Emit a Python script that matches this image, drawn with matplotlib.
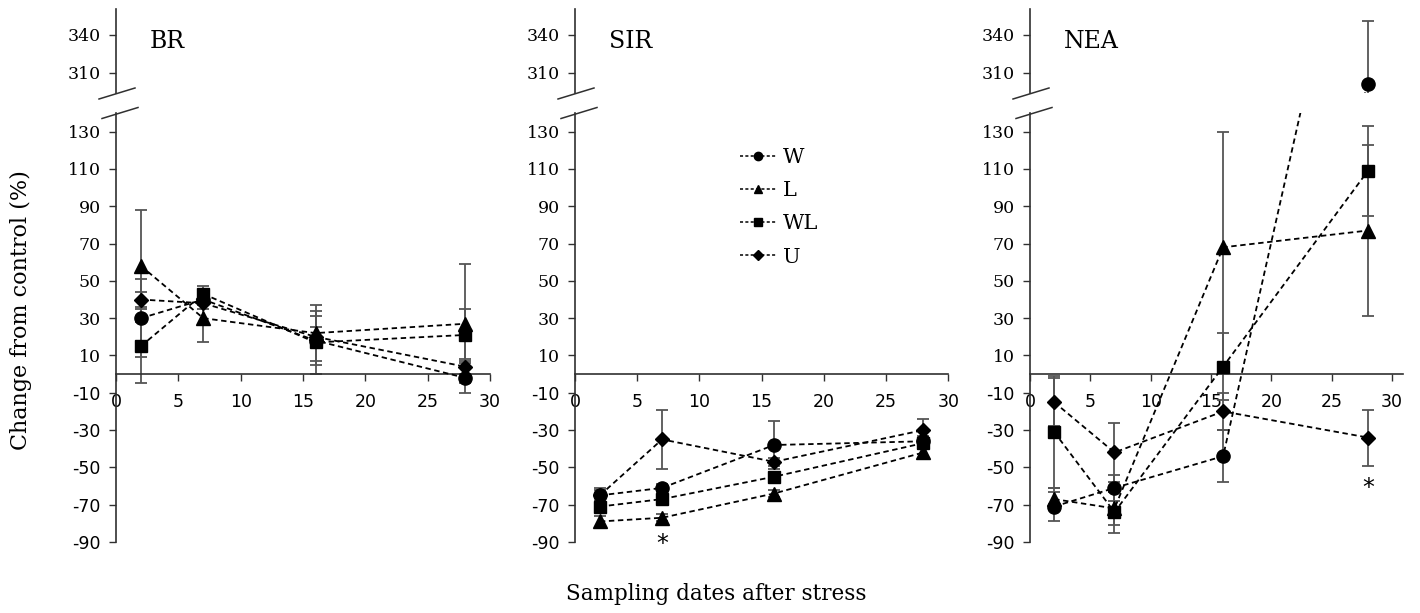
import numpy as np
import matplotlib.pyplot as plt
from matplotlib.lines import Line2D

days = [2, 7, 16, 28]
groups = ['W', 'L', 'WL', 'U']
marks = {'W': 'o', 'L': '^', 'WL': 's', 'U': 'D'}
msize = {'W': 9.5, 'L': 10, 'WL': 8.5, 'U': 7}

# mean change from control (%)
br_mean = {'W': [30, 40, 18, -2], 'L': [58, 30, 22, 27], 'WL': [15, 43, 17, 21], 'U': [40, 38, 20, 4]}
br_err = {'W': [21, 3, 13, 8], 'L': [30, 13, 15, 32], 'WL': [20, 4, 17, 14], 'U': [4, 3, 5, 4]}

sir_mean = {'W': [-65, -61, -38, -36], 'L': [-79, -77, -64, -42], 'WL': [-71, -67, -55, -37], 'U': [-65, -35, -47, -30]}
sir_err = {'W': [3, 2, 13, 3], 'L': [3, 2, 2, 3], 'WL': [3, 2, 2, 3], 'U': [4, 16, 2, 6]}

nea_mean = {'W': [-71, -61, -44, 301], 'L': [-67, -72, 68, 77], 'WL': [-31, -74, 4, 109], 'U': [-15, -42, -20, -34]}
nea_err = {'W': [8, 7, 14, 50], 'L': [6, 9, 62, 46], 'WL': [30, 11, 18, 24], 'U': [13, 16, 10, 15]}

panel_names = ['BR', 'SIR', 'NEA']
panel_means = [br_mean, sir_mean, nea_mean]
panel_errs = [br_err, sir_err, nea_err]
stars = [[], [(7, -91)], [(28, -61)]]

low_ticks = [-90, -70, -50, -30, -10, 10, 30, 50, 70, 90, 110, 130]
high_ticks = [310, 340]
x_ticks = [0, 5, 10, 15, 20, 25, 30]

W, H = 1420, 613
fig = plt.figure(figsize=(W / 100, H / 100), dpi=100)

serif = 'DejaVu Serif'
sans = 'DejaVu Sans'
axcol = '#303030'
ecol = '#555555'

lefts = [116, 575, 1030]
xmax = [30, 30, 30.9]
pxu = [12.47, 12.44, 12.07]
low_top, low_bot = 113, 542
high_top, high_bot = 9, 93


def fx(px):
    return px / W


def fy(py):
    return 1 - py / H


for i in range(3):
    left = lefts[i]
    width = xmax[i] * pxu[i]
    lo = fig.add_axes([fx(left), fy(low_bot), fx(width), (low_bot - low_top) / H])
    hi = fig.add_axes([fx(left), fy(high_bot), fx(width), (high_bot - high_top) / H])
    lo.set_ylim(-90, 140)
    hi.set_ylim(294.3, 360)
    means = panel_means[i]
    errs = panel_errs[i]
    for ax in (lo, hi):
        ax.set_xlim(0, xmax[i])
        for g in groups:
            ax.errorbar(days, means[g], yerr=errs[g], fmt='none', ecolor=ecol,
                        elinewidth=1.3, capsize=4, capthick=1.3, zorder=2)
        for g in groups:
            ax.plot(days, means[g], color='black', ls=(0, (3, 2)), lw=1.3,
                    marker=marks[g], ms=msize[g], mfc='black', mec='black', zorder=3)
        for s in ['top', 'right']:
            ax.spines[s].set_visible(False)
        ax.spines['left'].set_color(axcol)
        ax.spines['left'].set_linewidth(1.2)
        ax.tick_params(axis='y', direction='out', length=5, width=1, color=axcol, pad=6)

    hi.spines['bottom'].set_visible(False)
    hi.set_xticks([])
    hi.set_yticks(high_ticks)
    hi.set_yticklabels([str(t) for t in high_ticks], fontsize=12.5, family=serif)

    lo.spines['bottom'].set_position(('data', 0))
    lo.spines['bottom'].set_color(axcol)
    lo.spines['bottom'].set_linewidth(1.2)
    lo.set_yticks(low_ticks)
    lo.set_yticklabels([str(t) for t in low_ticks], fontsize=12.5)
    for t, lab in zip(low_ticks, lo.get_yticklabels()):
        lab.set_family(sans if t < 0 else serif)
    lo.set_xticks(x_ticks)
    lo.set_xticklabels([str(t) for t in x_ticks], fontsize=12.5, family=sans)
    lo.tick_params(axis='x', direction='out', length=5, width=1, color=axcol, pad=8.5)

    hi.text(0.09, 0.61, panel_names[i], transform=hi.transAxes, fontsize=17,
            family=serif, va='center')

    for sx, sy in stars[i]:
        lo.text(sx, sy, '*', fontsize=17, ha='center', va='center', family=sans)

    # axis break marks
    for cx, cy in [(left, 93.5), (left + 3, 113)]:
        fig.add_artist(Line2D([fx(cx - 17), fx(cx + 19)], [fy(cy + 5.5), fy(cy - 5.5)],
                              color=axcol, lw=1.1))

    if i == 1:
        handles = [Line2D([], [], color='black', ls=(0, (2, 1.5)), lw=1.1,
                          marker=marks[g], ms=6 if g != 'U' else 5, mfc='black', mec='black')
                   for g in groups]
        lo.legend(handles, groups, loc='upper left', bbox_to_anchor=(0.392, 0.962),
                  frameon=False, handlelength=1.75, handletextpad=0.3,
                  labelspacing=0.68, prop={'family': serif, 'size': 15})

fig.text(0.015, fy(310), 'Change from control (%)', rotation=90, ha='center',
         va='center', fontsize=16, family=serif)
fig.text(fx(716), fy(594), 'Sampling dates after stress', ha='center', va='center',
         fontsize=15.5, family=serif)

fig.savefig('out.png', dpi=100)
